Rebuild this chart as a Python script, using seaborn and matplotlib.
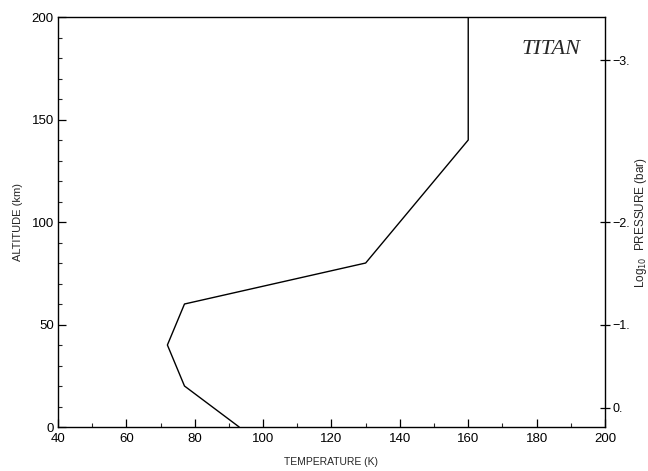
import matplotlib
matplotlib.use("Agg")
import matplotlib.pyplot as plt
import seaborn as sns
import pandas as pd
from matplotlib.ticker import MultipleLocator

# Data
temperature = [93, 77, 72, 77, 130, 160, 160]
altitude = [0, 20, 40, 60, 80, 140, 200]
pressure_alt = [9.3, 50, 100, 179]
pressure_labels = ["0.", "\u22121.", "\u22122.", "\u22123."]

sns.set_theme(style="white")
plt.rcParams['font.family'] = ['Liberation Sans', 'DejaVu Sans']

df = pd.DataFrame({"T": temperature, "Z": altitude})

fig = plt.figure(figsize=(6.48, 4.71), dpi=100)
ax = fig.add_axes([0.0895, 0.0934, 0.8441, 0.8705])
sns.lineplot(data=df, x="T", y="Z", sort=False, estimator=None, color="black",
             linewidth=1.0, ax=ax)

ax.set_xlim(40, 200)
ax.set_ylim(0, 200)
ax.xaxis.set_major_locator(MultipleLocator(20))
ax.xaxis.set_minor_locator(MultipleLocator(10))
ax.yaxis.set_major_locator(MultipleLocator(50))
ax.yaxis.set_minor_locator(MultipleLocator(10))
ax.tick_params(axis='both', which='major', direction='in', length=6, width=0.9,
               labelsize=9.5, colors='black', bottom=True, left=True, top=False, right=False)
ax.tick_params(axis='both', which='minor', direction='in', length=3, width=0.8,
               bottom=True, left=True, top=False, right=False)
ax.tick_params(axis='x', pad=4)
ax.tick_params(axis='y', pad=3)
for s in ax.spines.values():
    s.set_color('black')
    s.set_linewidth(1.0)

ax.set_xlabel("TEMPERATURE (K)", fontsize=7.5, labelpad=9)
ax.set_ylabel("ALTITUDE (km)", fontsize=8, labelpad=6)

ax2 = ax.twinx()
ax2.set_ylim(0, 200)
ax2.set_yticks(pressure_alt)
ax2.set_yticklabels(pressure_labels)
ax2.tick_params(axis='y', direction='inout', length=7, width=0.9, labelsize=9,
                colors='black', right=True, pad=2)
ax2.grid(False)
for s in ax2.spines.values():
    s.set_visible(False)
ax2.set_ylabel("Log$_{10}$  PRESSURE (bar)", fontsize=8.5, labelpad=2)

ax.text(0.955, 0.92, "TITAN", transform=ax.transAxes, ha='right', va='center',
        fontsize=16, fontstyle='italic', family=['Liberation Serif', 'DejaVu Serif'])

fig.savefig("out.png", dpi=100)
